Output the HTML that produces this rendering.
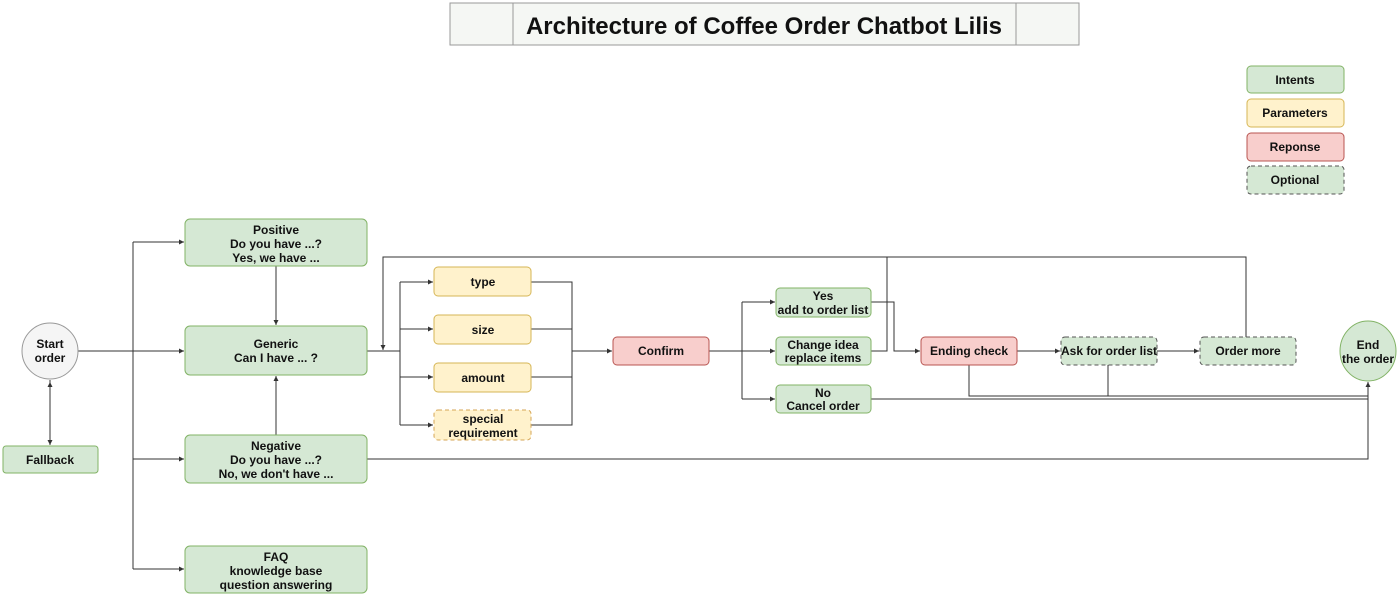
<!DOCTYPE html>
<html><head><meta charset="utf-8"><style>
html,body{margin:0;padding:0;background:#fff}
svg{display:block}
text{font-family:"Liberation Sans",Arial,sans-serif;font-weight:bold;font-size:12px;fill:#111;text-anchor:middle}
.g{fill:#d5e8d4;stroke:#82b366;stroke-width:1}
.y{fill:#fff2cc;stroke:#d6b656;stroke-width:1}
.r{fill:#f8cecc;stroke:#b85450;stroke-width:1}
.d{stroke-dasharray:4 3;stroke:#555}
.l{fill:none;stroke:#333;stroke-width:1}
</style></head><body>
<svg width="1400" height="597" viewBox="0 0 1400 597" xmlns="http://www.w3.org/2000/svg">
<defs><marker id="a" markerWidth="6" markerHeight="6" refX="5" refY="3" orient="auto"><path d="M0,0.5 L5,3 L0,5.5z" fill="#333"/></marker></defs>
<rect x="450" y="3" width="629" height="42" fill="#f5f7f4" stroke="#999"/>
<line x1="513" y1="3" x2="513" y2="45" stroke="#999"/>
<line x1="1016" y1="3" x2="1016" y2="45" stroke="#999"/>
<text x="764" y="34" style="font-size:24px">Architecture of Coffee Order Chatbot Lilis</text>
<rect class="g" x="1247" y="66" width="97" height="27" rx="4"/><text x="1295" y="84">Intents</text>
<rect class="y" x="1247" y="99" width="97" height="28" rx="4"/><text x="1295" y="117">Parameters</text>
<rect class="r" x="1247" y="133" width="97" height="28" rx="4"/><text x="1295" y="151">Reponse</text>
<rect class="g d" x="1247" y="166" width="97" height="28" rx="4"/><text x="1295" y="184">Optional</text>
<g class="l">
<line x1="78" y1="351" x2="184" y2="351" marker-end="url(#a)"/>
<line x1="50" y1="380" x2="50" y2="445" marker-end="url(#a)"/>
<line x1="50" y1="440" x2="50" y2="382" marker-end="url(#a)"/>
<polyline points="133,242 133,569"/>
<line x1="133" y1="242" x2="184" y2="242" marker-end="url(#a)"/>
<line x1="133" y1="459" x2="184" y2="459" marker-end="url(#a)"/>
<line x1="133" y1="569" x2="184" y2="569" marker-end="url(#a)"/>
<line x1="276" y1="266" x2="276" y2="325" marker-end="url(#a)"/>
<line x1="276" y1="435" x2="276" y2="376" marker-end="url(#a)"/>
<line x1="367" y1="351" x2="400" y2="351"/>
<polyline points="400,282 400,425"/>
<line x1="400" y1="282" x2="433" y2="282" marker-end="url(#a)"/>
<line x1="400" y1="329" x2="433" y2="329" marker-end="url(#a)"/>
<line x1="400" y1="377" x2="433" y2="377" marker-end="url(#a)"/>
<line x1="400" y1="425" x2="433" y2="425" marker-end="url(#a)"/>
<polyline points="531,282 572,282 572,425 531,425"/>
<line x1="531" y1="329" x2="572" y2="329"/>
<line x1="531" y1="377" x2="572" y2="377"/>
<line x1="572" y1="351" x2="612" y2="351" marker-end="url(#a)"/>
<line x1="709" y1="351" x2="775" y2="351" marker-end="url(#a)"/>
<polyline points="742,302 742,399"/>
<line x1="742" y1="302" x2="775" y2="302" marker-end="url(#a)"/>
<line x1="742" y1="399" x2="775" y2="399" marker-end="url(#a)"/>
<polyline points="871,302 894,302 894,351 920,351" marker-end="url(#a)"/>
<polyline points="871,351 887,351 887,257 383,257 383,350" marker-end="url(#a)"/>
<polyline points="1246,337 1246,257 887,257"/>
<line x1="1017" y1="351" x2="1060" y2="351" marker-end="url(#a)"/>
<line x1="1157" y1="351" x2="1199" y2="351" marker-end="url(#a)"/>
<polyline points="969,365 969,396 1368,396"/>
<line x1="1108" y1="365" x2="1108" y2="396"/>
<line x1="871" y1="399" x2="1368" y2="399"/>
<polyline points="367,459 1368,459 1368,382" marker-end="url(#a)"/>
</g>
<circle cx="50" cy="351" r="28" fill="#f5f5f5" stroke="#999"/>
<text x="50" y="348">Start</text><text x="50" y="362">order</text>
<rect class="g" x="3" y="446" width="95" height="27" rx="3"/><text x="50" y="464">Fallback</text>
<rect class="g" x="185" y="219" width="182" height="47" rx="5"/>
<text x="276" y="234">Positive</text><text x="276" y="248">Do you have ...?</text><text x="276" y="262">Yes, we have ...</text>
<rect class="g" x="185" y="326" width="182" height="49" rx="5"/>
<text x="276" y="348">Generic</text><text x="276" y="362">Can I have ... ?</text>
<rect class="g" x="185" y="435" width="182" height="48" rx="5"/>
<text x="276" y="450">Negative</text><text x="276" y="464">Do you have ...?</text><text x="276" y="478">No, we don't have ...</text>
<rect class="g" x="185" y="546" width="182" height="47" rx="5"/>
<text x="276" y="561">FAQ</text><text x="276" y="575">knowledge base</text><text x="276" y="589">question answering</text>
<rect class="y" x="434" y="267" width="97" height="29" rx="4"/><text x="483" y="286">type</text>
<rect class="y" x="434" y="315" width="97" height="29" rx="4"/><text x="483" y="334">size</text>
<rect class="y" x="434" y="363" width="97" height="29" rx="4"/><text x="483" y="382">amount</text>
<rect class="y d" x="434" y="410" width="97" height="30" rx="4" style="stroke:#d6a656"/><text x="483" y="423">special</text><text x="483" y="437">requirement</text>
<rect class="r" x="613" y="337" width="96" height="28" rx="4"/><text x="661" y="355">Confirm</text>
<rect class="g" x="776" y="288" width="95" height="29" rx="4"/><text x="823" y="300">Yes</text><text x="823" y="314">add to order list</text>
<rect class="g" x="776" y="337" width="95" height="28" rx="4"/><text x="823" y="349">Change idea</text><text x="823" y="362">replace items</text>
<rect class="g" x="776" y="385" width="95" height="28" rx="4"/><text x="823" y="397">No</text><text x="823" y="410">Cancel order</text>
<rect class="r" x="921" y="337" width="96" height="28" rx="4"/><text x="969" y="355">Ending check</text>
<rect class="g d" x="1061" y="337" width="96" height="28" rx="4"/><text x="1109" y="355">Ask for order list</text>
<rect class="g d" x="1200" y="337" width="96" height="28" rx="4"/><text x="1248" y="355">Order more</text>
<ellipse cx="1368" cy="351" rx="28" ry="30" class="g"/>
<text x="1368" y="349">End</text><text x="1368" y="363">the order</text>
</svg>
</body></html>
